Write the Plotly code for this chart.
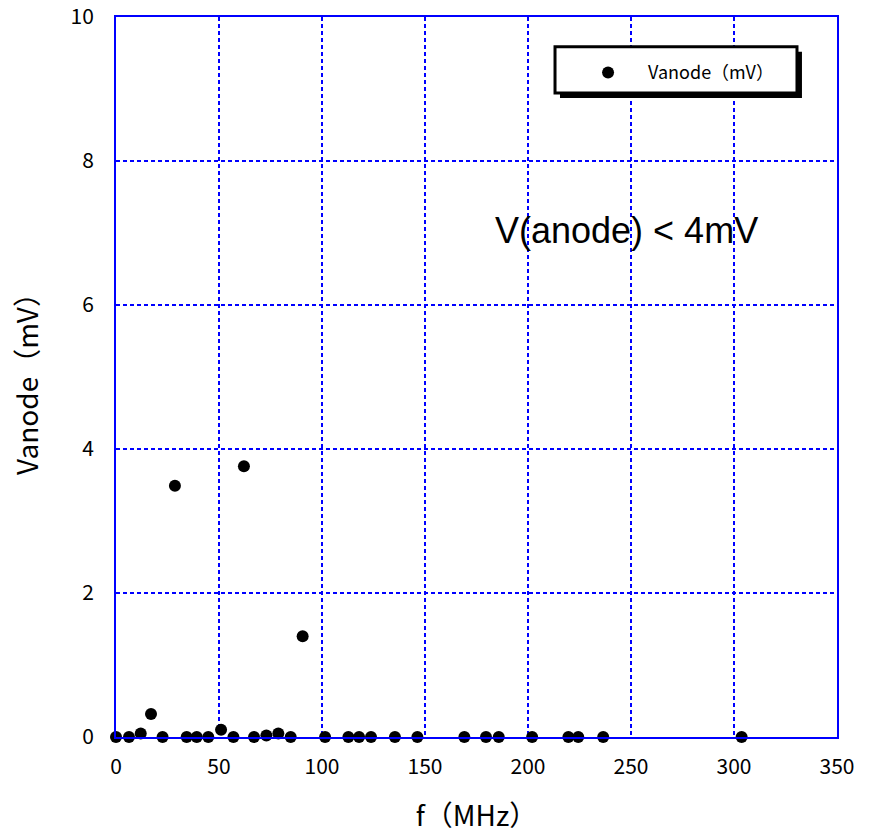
import plotly.graph_objects as go

freq_mhz = [0, 6.3, 12, 17, 22.6, 28.6, 34.3, 39.2, 44.8, 51, 57, 62.1, 67, 73, 78.8, 84.8,
            90.6, 101.5, 112.8, 118, 123.8, 135.4, 146.3, 169.1, 179.6, 185.8, 202,
            219.6, 224.4, 236.5, 303.7]
vanode_mv = [0, 0, 0.05, 0.32, 0, 3.49, 0, 0, 0, 0.1, 0, 3.76, 0, 0.02, 0.05, 0,
             1.40, 0, 0, 0, 0, 0, 0, 0, 0, 0, 0,
             0, 0, 0, 0]

x_ticks = [0, 50, 100, 150, 200, 250, 300, 350]
y_ticks = [0, 2, 4, 6, 8, 10]

BLUE = "#0000FF"
FAM = "Noto Sans CJK JP, DejaVu Sans"
TICK_FONT = dict(family=FAM, size=21, color="black")
LABEL_FONT = dict(family=FAM, size=28, color="black")

# legend box geometry (paper fractions)
bx0, bx1, by0, by1 = 0.6089, 0.9445, 0.8944, 0.9588
sh = 0.0069

fig = go.Figure()
fig.add_trace(go.Scatter(
    x=freq_mhz, y=vanode_mv, mode="markers", name="Vanode\uff08mV\uff09",
    marker=dict(color="black", size=12),
    cliponaxis=False,
))

fig.update_layout(
    width=877, height=834,
    margin=dict(l=116, r=40, t=17, b=97, pad=0),
    plot_bgcolor="white", paper_bgcolor="white",
    showlegend=True,
    legend=dict(
        x=0.627, y=0.9226, xanchor="left", yanchor="middle",
        bgcolor="rgba(0,0,0,0)", borderwidth=0,
        font=dict(family=FAM, size=18, color="black"),
        itemwidth=70,
    ),
    xaxis=dict(
        range=[0, 350], tickvals=x_ticks, ticks="", showline=True, linecolor=BLUE, linewidth=2,
        mirror=True, showgrid=True, gridcolor=BLUE, griddash="4px,3px", gridwidth=1.5,
        zeroline=False, tickfont=TICK_FONT, ticklabelstandoff=10, automargin=False,
        title=dict(text="f\uff08MHz\uff09", font=LABEL_FONT, standoff=27),
    ),
    yaxis=dict(
        range=[0, 10], tickvals=y_ticks, ticks="", showline=True, linecolor=BLUE, linewidth=2,
        mirror=True, showgrid=True, gridcolor=BLUE, griddash="4px,3px", gridwidth=1.5,
        zeroline=False, tickfont=TICK_FONT, ticklabelstandoff=16, automargin=False,
        title=dict(text="Vanode\uff08mV\uff09", font=LABEL_FONT, standoff=24),
    ),
    annotations=[dict(
        x=247.6, y=7.03, xref="x", yref="y", text="V(anode) &lt; 4mV", showarrow=False,
        font=dict(family="Liberation Sans, Arial", size=36, color="black"),
    )],
    shapes=[
        dict(type="rect", xref="paper", yref="paper", layer="above",
             x0=bx0 + sh, x1=bx1 + sh, y0=by0 - sh, y1=by1 - sh,
             fillcolor="black", line=dict(width=0)),
        dict(type="rect", xref="paper", yref="paper", layer="above",
             x0=bx0, x1=bx1, y0=by0, y1=by1,
             fillcolor="white", line=dict(color="black", width=3)),
    ],
)

fig.write_html("out.html")
